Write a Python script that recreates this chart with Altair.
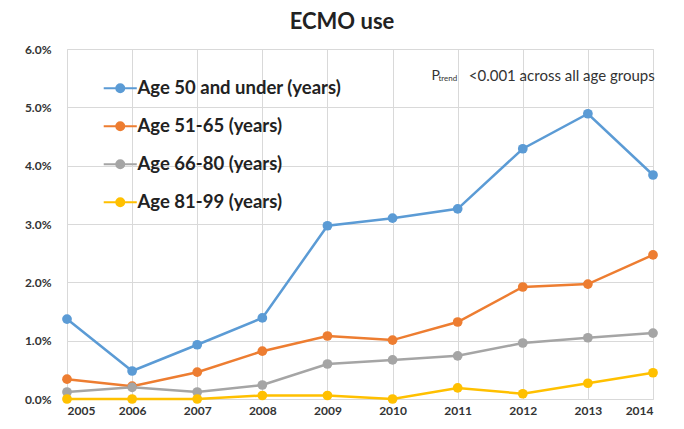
import altair as alt
import pandas as pd

years = [2005, 2006, 2007, 2008, 2009, 2010, 2011, 2012, 2013, 2014]
age_50_under = [1.37, 0.48, 0.93, 1.39, 2.97, 3.10, 3.26, 4.29, 4.89, 3.84]
age_51_65 = [0.34, 0.22, 0.46, 0.82, 1.08, 1.01, 1.32, 1.92, 1.97, 2.47]
age_66_80 = [0.12, 0.20, 0.12, 0.24, 0.60, 0.67, 0.74, 0.96, 1.05, 1.13]
age_81_99 = [0.00, 0.00, 0.00, 0.06, 0.06, 0.00, 0.19, 0.09, 0.27, 0.45]

series_names = ["Age 50 and under (years)", "Age 51-65 (years)",
                "Age 66-80 (years)", "Age 81-99 (years)"]
series_vals = [age_50_under, age_51_65, age_66_80, age_81_99]
colors = ["#5B9BD5", "#ED7D31", "#A5A5A5", "#FFC000"]

rows = []
for name, vals in zip(series_names, series_vals):
    for y, v in zip(years, vals):
        rows.append({"year": y, "value": v / 100, "group": name})
df = pd.DataFrame(rows)

FONT = "Lato"
symbol_path = "M-2.9,0H2.9M0.7,0A0.7,0.7,0,1,1,-0.7,0A0.7,0.7,0,1,1,0.7,0"

x_enc = alt.X("year:Q", scale=alt.Scale(domain=[2005, 2014], nice=False, zero=False),
              axis=alt.Axis(values=years, format="d", title=None, labelFontWeight="bold",
                            labelFontSize=12, labelColor="#333333", labelFont=FONT,
                            grid=True, gridColor="#D9D9D9", domain=False, ticks=False,
                            labelPadding=6))
y_enc = alt.Y("value:Q", scale=alt.Scale(domain=[0, 0.06], nice=False),
              axis=alt.Axis(values=[0, 0.01, 0.02, 0.03, 0.04, 0.05, 0.06], format=".1%",
                            title=None, labelFontWeight="bold", labelFontSize=12,
                            labelColor="#333333", labelFont=FONT, grid=True,
                            gridColor="#D9D9D9", domain=False, ticks=False, labelPadding=16))
color_enc = alt.Color("group:N", scale=alt.Scale(domain=series_names, range=colors),
                      legend=alt.Legend(title=None, orient="none", legendX=44, legendY=30,
                                        symbolType=symbol_path, symbolSize=130,
                                        symbolStrokeWidth=2, labelFont=FONT,
                                        labelFontSize=18.5, labelColor="#222222",
                                        labelFontWeight="bold", rowPadding=19,
                                        labelLimit=400, labelOffset=8))

lines = alt.Chart(df).mark_line(strokeWidth=2.5).encode(
    x=x_enc, y=y_enc, color=color_enc, order="year:Q")
points = alt.Chart(df).mark_circle(size=95, opacity=1).encode(
    x="year:Q", y="value:Q", color=alt.Color("group:N", legend=None,
                                              scale=alt.Scale(domain=series_names, range=colors)))

ann_p = pd.DataFrame({"year": [2010.6], "value": [0.0554], "t": ["P"]})
ann_sub = pd.DataFrame({"year": [2010.705], "value": [0.0549], "t": ["trend"]})
ann_rest = pd.DataFrame({"year": [2011.17], "value": [0.0554], "t": ["<0.001 across all age groups"]})

t1 = alt.Chart(ann_p).mark_text(align="left", baseline="middle", font=FONT, fontSize=14,
                                color="#333333").encode(x="year:Q", y="value:Q", text="t:N")
t2 = alt.Chart(ann_sub).mark_text(align="left", baseline="middle", font=FONT, fontSize=8,
                                  color="#333333").encode(x="year:Q", y="value:Q", text="t:N")
t3 = alt.Chart(ann_rest).mark_text(align="left", baseline="middle", font=FONT, fontSize=15,
                                   color="#333333").encode(x="year:Q", y="value:Q", text="t:N")

chart = alt.layer(lines, points, t1, t2, t3).properties(
    width=586, height=350,
    title=alt.TitleParams("ECMO use", font=FONT, fontSize=22, fontWeight="bold",
                          color="#222222", anchor="middle", dx=-18, offset=9),
    autosize=alt.AutoSizeParams(type="none"),
    padding={"left": 59, "top": 41, "right": 23, "bottom": 30},
).configure_view(stroke="#D9D9D9").configure(background="white")

chart.save("out.html", embed_options={"renderer": "svg", "actions": False})
